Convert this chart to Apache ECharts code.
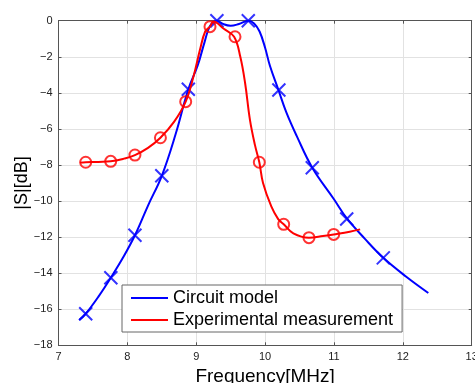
<!DOCTYPE html>
<html>
<head>
<meta charset="utf-8">
<script src="https://cdn.jsdelivr.net/npm/echarts@6/dist/echarts.min.js"></script>
<style>
html,body{margin:0;padding:0;background:#fff;}
#chart{width:475px;height:383px;}
</style>
</head>
<body>
<div id="chart"></div>
<script>
// Circuit model curve
var blueCurveX = [7.30,7.395,7.58,7.76,7.95,8.11,8.30,8.50,8.70,8.885,9.02,9.12,9.20,9.30,9.40,9.50,9.62,9.756,9.84,9.92,10.00,10.07,10.19,10.31,10.46,10.685,11.00,11.185,11.45,11.716,12.05,12.37];
var blueCurveY = [-16.6,-16.25,-15.3,-14.25,-13.05,-11.9,-10.25,-8.6,-6.3,-3.8,-2.5,-1.2,-0.3,0,-0.2,-0.28,-0.18,0,-0.15,-0.6,-1.5,-2.5,-3.8,-5.1,-6.4,-8.15,-9.9,-10.95,-12.1,-13.15,-14.2,-15.1];
// Circuit model markers
var blueMarkX = [7.395,7.76,8.11,8.50,8.885,9.30,9.756,10.20,10.685,11.185,11.716];
var blueMarkY = [-16.25,-14.25,-11.9,-8.6,-3.8,0,0,-3.84,-8.15,-11.0,-13.15];
// Experimental measurement curve
var redCurveX = [7.31,7.395,7.58,7.758,7.95,8.11,8.30,8.48,8.68,8.847,8.96,9.055,9.13,9.20,9.25,9.40,9.55,9.64,9.71,9.78,9.853,9.916,9.97,10.09,10.19,10.27,10.41,10.637,10.84,10.996,11.23,11.38];
var redCurveY = [-7.87,-7.85,-7.83,-7.80,-7.65,-7.45,-7.05,-6.49,-5.6,-4.49,-3.1,-1.6,-0.6,-0.33,-0.05,-0.45,-0.89,-2.0,-3.47,-5.5,-6.9,-7.85,-9.0,-10.3,-11.0,-11.29,-11.79,-12.03,-11.94,-11.85,-11.7,-11.57];
// Experimental measurement markers
var redMarkX = [7.395,7.758,8.11,8.48,8.847,9.20,9.563,9.916,10.27,10.637,10.996];
var redMarkY = [-7.85,-7.80,-7.45,-6.49,-4.49,-0.33,-0.89,-7.85,-11.29,-12.03,-11.85];

var seriesNames = ['Circuit model', 'Experimental measurement'];
var xName = 'Frequency[MHz]';
var yName = '|S|[dB]';

function zip(xs, ys){ return xs.map(function(x,i){ return [x, ys[i]]; }); }
function minusFmt(v){ return String(v).replace('-', '\u2212'); }

var BLUE = '#0000ff', RED = '#ff0000';
var FONT = '"Liberation Sans", Arial, sans-serif';
var crossPath = 'path://M0,0L10,10M0,10L10,0';

var axisCommon = {
  type: 'value',
  axisLine: { show: true, onZero: false, lineStyle: { color: '#555', width: 1 } },
  axisTick: { show: true, inside: true, length: 3, lineStyle: { color: '#555' } },
};

var chart = echarts.init(document.getElementById('chart'), null, { renderer: 'canvas' });
chart.setOption({
  animation: false,
  backgroundColor: '#fff',
  grid: { left: 58.5, right: 3.3, top: 20.7, bottom: 37.7, containLabel: false, outerBoundsMode: 'none' },
  legend: {
    orient: 'vertical',
    left: 122, top: 285,
    padding: [4, 9, 3, 9],
    itemGap: 4,
    itemWidth: 37, itemHeight: 2,
    backgroundColor: '#fff',
    borderColor: '#666', borderWidth: 1,
    textStyle: { fontFamily: FONT, fontSize: 18, color: '#000' },
    data: [
      { name: seriesNames[0], icon: 'rect', itemStyle: { color: BLUE } },
      { name: seriesNames[1], icon: 'rect', itemStyle: { color: RED } }
    ]
  },
  xAxis: [
    Object.assign({}, axisCommon, {
      position: 'bottom', min: 7, max: 13, interval: 1,
      name: xName, nameLocation: 'middle', nameGap: 22, nameMoveOverlap: false,
      nameTextStyle: { fontFamily: FONT, fontSize: 19, color: '#000' },
      axisLabel: { fontFamily: FONT, fontSize: 11, color: '#222', margin: 6, formatter: minusFmt },
      splitLine: { show: true, lineStyle: { color: '#e2e2e2', width: 1 } }
    }),
    Object.assign({}, axisCommon, {
      position: 'top', min: 7, max: 13, interval: 1,
      axisLabel: { show: false }, splitLine: { show: false }
    })
  ],
  yAxis: [
    Object.assign({}, axisCommon, {
      position: 'left', min: -18, max: 0, interval: 2,
      name: yName, nameLocation: 'middle', nameGap: 27, nameMoveOverlap: false,
      nameTextStyle: { fontFamily: FONT, fontSize: 18, color: '#000' },
      axisLabel: { fontFamily: FONT, fontSize: 11, color: '#222', margin: 6, formatter: minusFmt },
      splitLine: { show: true, lineStyle: { color: '#e2e2e2', width: 1 } }
    }),
    Object.assign({}, axisCommon, {
      position: 'right', min: -18, max: 0, interval: 2,
      axisLabel: { show: false }, splitLine: { show: false }
    })
  ],
  series: [
    {
      name: seriesNames[0], type: 'line', smooth: 0.4,
      showSymbol: false, symbol: 'none',
      lineStyle: { color: BLUE, width: 2 }, itemStyle: { color: BLUE },
      data: zip(blueCurveX, blueCurveY), z: 3
    },
    {
      name: seriesNames[0], type: 'scatter', symbol: crossPath, symbolSize: 13, clip: false,
      itemStyle: { color: 'rgba(0,0,0,0)', borderColor: BLUE, borderWidth: 2 },
      data: zip(blueMarkX, blueMarkY), z: 3
    },
    {
      name: seriesNames[1], type: 'line', smooth: 0.4,
      showSymbol: false, symbol: 'none',
      lineStyle: { color: RED, width: 2 }, itemStyle: { color: RED },
      data: zip(redCurveX, redCurveY), z: 4
    },
    {
      name: seriesNames[1], type: 'scatter', symbol: 'circle', symbolSize: 11, clip: false,
      itemStyle: { color: 'rgba(0,0,0,0)', borderColor: RED, borderWidth: 2 },
      data: zip(redMarkX, redMarkY), z: 4
    }
  ]
});
</script>
</body>
</html>
